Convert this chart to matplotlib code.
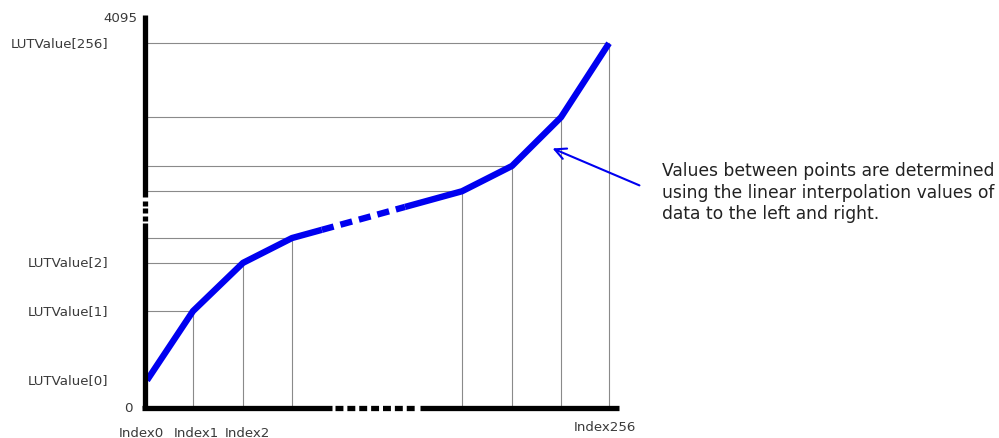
import matplotlib
matplotlib.use("Agg")
import matplotlib.pyplot as plt
import numpy as np

# ---- data (schematic positions along the index axis, LUT values on 0..4095) ----
point_x = [2, 48, 98, 147, 317, 367, 416, 464]
lut_values = [290, 1015, 1520, 1780, 2270, 2535, 3045, 3820]
x_tick_labels = {0: "Index0", 1: "Index1", 2: "Index2", 7: "Index256"}
y_tick_labels = {0: "LUTValue[0]", 1: "LUTValue[1]", 2: "LUTValue[2]", 7: "LUTValue[256]"}
y_max = 4095
x_max = 475
note = "Values between points are determined\nusing the linear interpolation values of\ndata to the left and right."

W, H = 999, 438
fig = plt.figure(figsize=(W / 100, H / 100), dpi=100)
# axes box in pixels: x 145..620, y 17..408 (top-down)
ax = fig.add_axes([145 / W, (H - 408) / H, 475 / W, 391 / H])
ax.set_xlim(0, x_max)
ax.set_ylim(0, y_max)
ax.axis("off")

grid_c = "#8a8a8a"
blue = "#0000f0"
txt_c = "#3a3a3a"

# guide lines (horizontal to axis, vertical to baseline)
for i, (x, y) in enumerate(zip(point_x, lut_values)):
    if i == 0:
        continue
    ax.plot([0, x], [y, y], color=grid_c, lw=0.8, zorder=1)
    ax.plot([x, x], [0, y], color=grid_c, lw=0.8, zorder=1)

# curve: solid segments, with dashed middle part of the P3-P4 segment
x3, y3 = point_x[3], lut_values[3]
x4, y4 = point_x[4], lut_values[4]
f1, f2 = 0.176, 0.665
xa, ya = x3 + f1 * (x4 - x3), y3 + f1 * (y4 - y3)
xb, yb = x3 + f2 * (x4 - x3), y3 + f2 * (y4 - y3)
ax.plot(point_x[:4] + [xa], lut_values[:4] + [ya], color=blue, lw=4.6,
        solid_capstyle="butt", solid_joinstyle="round", zorder=3, clip_on=False)
ax.plot([xa, xb], [ya, yb], color=blue, lw=4.6, dashes=(1.9, 1.1),
        dash_capstyle="butt", zorder=3, clip_on=False)
ax.plot([xb] + point_x[4:], [yb] + lut_values[4:], color=blue, lw=4.6,
        solid_capstyle="butt", solid_joinstyle="round", zorder=3, clip_on=False)

# axes with breaks
ax_lw = 3.8
ax.plot([0, 0], [0, 1937], color="black", lw=ax_lw, solid_capstyle="butt", zorder=4, clip_on=False)
ax.plot([0, 0], [2209, y_max + 20], color="black", lw=ax_lw, solid_capstyle="butt", zorder=4, clip_on=False)
for ys in [(1960, 2010), (2040, 2090), (2120, 2170)]:
    ax.plot([0, 0], list(ys), color="black", lw=ax_lw, solid_capstyle="butt", zorder=4, clip_on=False)
ax.plot([-3, 187], [0, 0], color="black", lw=ax_lw, solid_capstyle="butt", zorder=4, clip_on=False)
ax.plot([275, x_max - 1], [0, 0], color="black", lw=ax_lw, solid_capstyle="butt", zorder=4, clip_on=False)
ax.plot([190, 270], [0, 0], color="black", lw=ax_lw, dashes=(1.5, 0.75),
        dash_capstyle="butt", zorder=4, clip_on=False)

# tick labels
fs = 9.6
for i, lab in y_tick_labels.items():
    ax.text(-37, lut_values[i], lab, ha="right", va="center", fontsize=fs, color=txt_c)
ax.text(-8, y_max - 20, "4095", ha="right", va="center", fontsize=fs, color=txt_c)
ax.text(-17, 0, "0", ha="center", va="center", fontsize=fs, color=txt_c)
x_label_pos = {0: -4, 1: 51, 2: 102, 7: 460}
for i, lab in x_tick_labels.items():
    yy = -262 if i != 7 else -200
    ax.text(x_label_pos[i], yy, lab, ha="center", va="center", fontsize=fs, color=txt_c)

# annotation with arrow
ax.annotate("", xy=(405, 2730), xytext=(497, 2320),
            arrowprops=dict(arrowstyle="->", color=blue, lw=1.5, mutation_scale=20),
            annotation_clip=False)
ax.text(517, 2255, note, ha="left", va="center", fontsize=12.3, color="#222222",
        linespacing=1.24, clip_on=False)

fig.savefig("out.png", dpi=100)
